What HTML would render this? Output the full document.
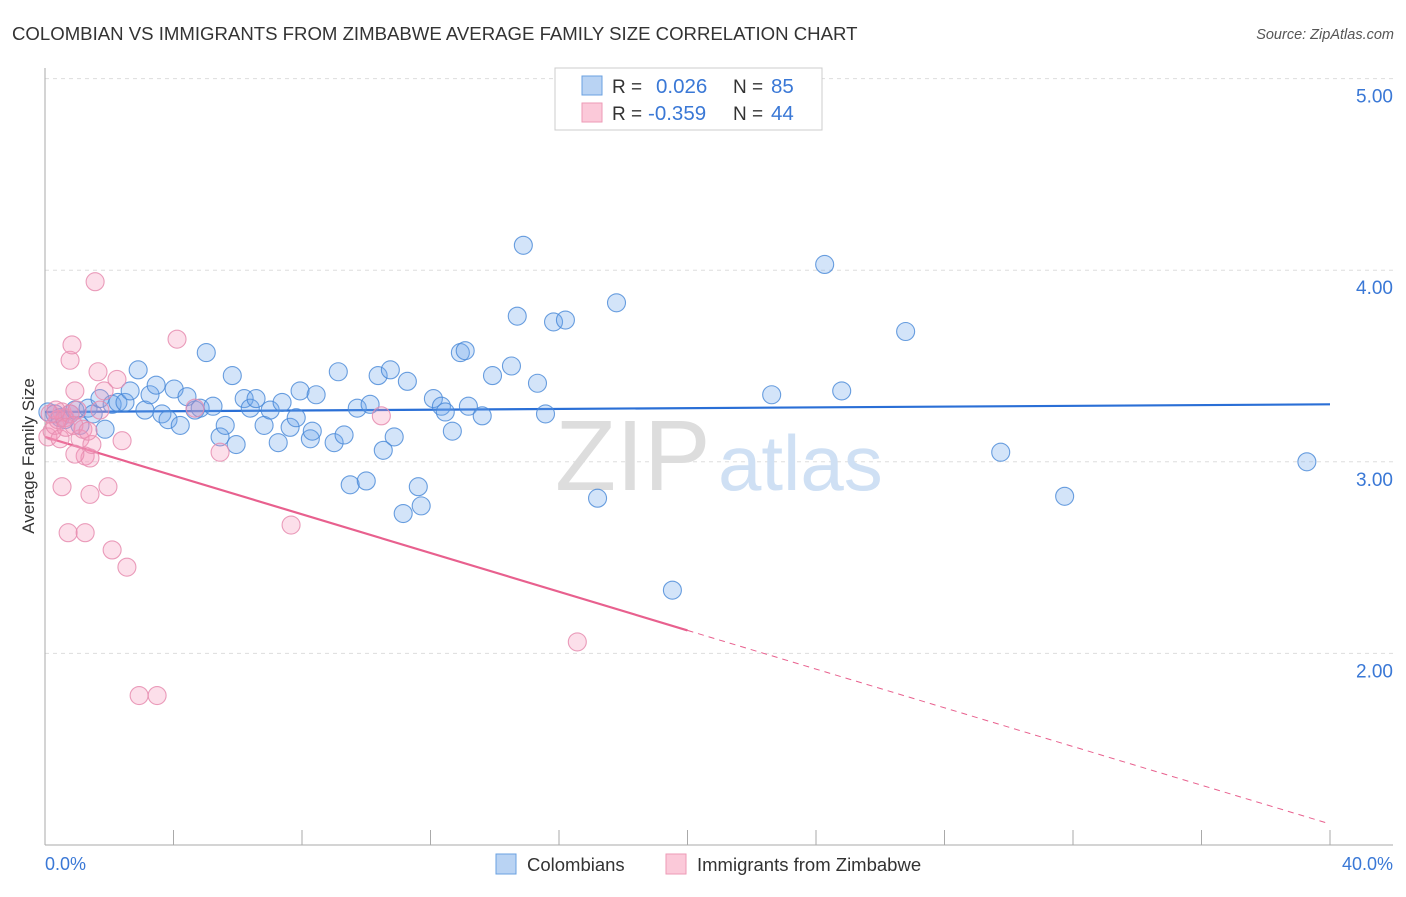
<!DOCTYPE html>
<html><head><meta charset="utf-8"><style>
body{margin:0;background:#fff;font-family:"Liberation Sans",sans-serif;}
svg text{font-family:"Liberation Sans",sans-serif;}
</style></head><body>
<svg width="1406" height="892" xmlns="http://www.w3.org/2000/svg">
<text x="12" y="40" font-size="18.6" fill="#333">COLOMBIAN VS IMMIGRANTS FROM ZIMBABWE AVERAGE FAMILY SIZE CORRELATION CHART</text>
<text x="1394" y="39" font-size="14.5" fill="#555" font-style="italic" text-anchor="end">Source: ZipAtlas.com</text>
<g id="grid"></g>
<g id="axes"></g>
<text x="555" y="490" font-size="100" fill="#ddd" font-family="Liberation Serif">ZIP</text>
<text x="718" y="490" font-size="78" fill="#cfe0f4">atlas</text>
<g id="trend"></g>
<g id="pts"></g>
<text x="34" y="456" font-size="17" fill="#333" text-anchor="middle" transform="rotate(-90 34 456)">Average Family Size</text>
<text x="45" y="870" font-size="18" fill="#3a78d6">0.0%</text>
<text x="1393" y="870" font-size="18" fill="#3a78d6" text-anchor="end">40.0%</text>
<g>
<rect x="555" y="68" width="267" height="62" fill="#fff" stroke="#ccc"/>
<rect x="582" y="76" width="20" height="19" fill="#b9d3f3" stroke="#6aa0e0"/>
<rect x="582" y="103" width="20" height="19" fill="#fbc9d9" stroke="#ee9ab6"/>
<text x="612" y="93" font-size="19" fill="#333">R = </text><text x="656" y="93" font-size="20.5" fill="#3a78d6">0.026</text>
<text x="733" y="93" font-size="19" fill="#333">N = </text><text x="771" y="93" font-size="20.5" fill="#3a78d6">85</text>
<text x="612" y="120" font-size="19" fill="#333">R = </text><text x="648" y="120" font-size="20.5" fill="#3a78d6">-0.359</text>
<text x="733" y="120" font-size="19" fill="#333">N = </text><text x="771" y="120" font-size="20.5" fill="#3a78d6">44</text>
</g>
<g>
<rect x="496" y="854" width="20" height="20" fill="#b9d3f3" stroke="#6aa0e0"/>
<text x="527" y="871" font-size="18.5" fill="#333">Colombians</text>
<rect x="666" y="854" width="20" height="20" fill="#fbc9d9" stroke="#ee9ab6"/>
<text x="697" y="871" font-size="18.5" fill="#333">Immigrants from Zimbabwe</text>
</g>
</svg>
<script>
const blueX=[0.09,0.31,0.47,0.62,0.78,0.93,1.09,1.34,1.50,1.71,1.87,2.09,2.27,2.49,2.65,2.90,3.11,3.27,3.46,3.64,3.83,4.02,4.21,4.42,4.67,4.83,5.02,5.23,5.45,5.61,5.83,5.95,6.20,6.39,6.57,6.82,7.01,7.26,7.38,7.63,7.82,7.94,8.26,8.32,8.44,9.00,9.13,9.31,9.50,9.72,10.00,10.12,10.37,10.53,10.75,10.87,11.15,11.28,11.62,11.71,12.09,12.34,12.46,12.68,12.93,13.08,13.18,13.61,13.93,14.52,14.70,14.89,15.33,15.58,15.83,16.20,17.20,17.79,19.53,22.62,24.27,24.80,26.79,29.75,31.74,39.28];
const blueY=[3.26,3.25,3.23,3.22,3.25,3.27,3.19,3.28,3.25,3.33,3.17,3.30,3.31,3.31,3.37,3.48,3.27,3.35,3.40,3.25,3.22,3.38,3.19,3.34,3.27,3.28,3.57,3.29,3.13,3.19,3.45,3.09,3.33,3.28,3.33,3.19,3.27,3.10,3.31,3.18,3.23,3.37,3.12,3.16,3.35,3.10,3.47,3.14,2.88,3.28,2.90,3.30,3.45,3.06,3.48,3.13,2.73,3.42,2.87,2.77,3.33,3.29,3.26,3.16,3.57,3.58,3.29,3.24,3.45,3.50,3.76,4.13,3.41,3.25,3.73,3.74,2.81,3.83,2.33,3.35,4.03,3.37,3.68,3.05,2.82,3.00];
const pinkX=[0.09,0.22,0.31,0.40,0.53,0.62,0.47,0.78,0.93,0.53,0.72,0.78,0.84,1.00,1.09,1.25,1.40,1.46,1.56,1.25,1.40,1.65,1.84,1.96,2.09,2.24,2.40,2.55,2.93,3.49,4.11,4.67,5.45,7.66,10.47,16.57,0.93,0.16,0.34,0.65,1.18,0.90,1.71,1.34];
const pinkY=[3.13,3.16,3.19,3.22,3.26,3.23,3.12,3.25,3.37,2.87,2.63,3.53,3.61,3.27,3.12,3.03,3.02,3.09,3.94,2.63,2.83,3.47,3.37,2.87,2.54,3.43,3.11,2.45,1.78,1.78,3.64,3.28,3.05,2.67,3.24,2.06,3.04,3.25,3.27,3.18,3.17,3.19,3.27,3.16];
const blueTrend=[3.26,3.30];
const pinkTrend=[3.13,1.11];
const pinkSolidEnd=20;
const yTicks=[2,3,4,5];
const yTickLabels=["2.00","3.00","4.00","5.00"];
const xTicks=[0,4,8,12,16,20,24,28,32,36,40];

const NS="http://www.w3.org/2000/svg";
const sx=v=>45+v*32.125, sy=v=>845-(v-1)*191.6;
function mk(tag,attrs,parent){const e=document.createElementNS(NS,tag);for(const k in attrs)e.setAttribute(k,attrs[k]);document.getElementById(parent).appendChild(e);return e;}
yTicks.forEach((t,i)=>{
 const l=mk('line',{x1:45,x2:1393,y1:sy(t),y2:sy(t),stroke:'#ddd','stroke-dasharray':'4,4'},'grid');
 
 
 const tx=mk('text',{x:1393,y:sy(t)+24,'font-size':19,fill:'#3a78d6','text-anchor':'end'},'grid');
 tx.textContent=yTickLabels[i];
 
 
});
mk('line',{x1:45,x2:45,y1:68,y2:845,stroke:'#aaa'},'axes');
mk('line',{x1:45,x2:1393,y1:845,y2:845,stroke:'#aaa'},'axes');
xTicks.forEach(t=>{
 const l=mk('line',{x1:sx(t),x2:sx(t),y1:830,y2:845,stroke:'#aaa'},'axes');
 
 
});
const bt=mk('line',{x1:sx(0),y1:sy(blueTrend[0]),x2:sx(40),y2:sy(blueTrend[1]),stroke:'#2a6fd6','stroke-width':2.2},'trend');


const pv=x=>pinkTrend[0]+(pinkTrend[1]-pinkTrend[0])*x/40;
const ps=mk('line',{x1:sx(0),y1:sy(pv(0)),x2:sx(pinkSolidEnd),y2:sy(pv(pinkSolidEnd)),stroke:'#e8608e','stroke-width':2.2},'trend');


const pd=mk('line',{x1:sx(pinkSolidEnd),y1:sy(pv(pinkSolidEnd)),x2:sx(40),y2:sy(pv(40)),stroke:'#e8608e','stroke-width':1,'stroke-dasharray':'6,5'},'trend');


blueX.forEach((x,i)=>{
 const c=mk('circle',{cx:sx(x),cy:sy(blueY[i]),r:9,fill:'rgba(110,165,235,0.3)',stroke:'rgba(70,135,215,0.8)','stroke-width':1.1},'pts');
 
 
});
pinkX.forEach((x,i)=>{
 const c=mk('circle',{cx:sx(x),cy:sy(pinkY[i]),r:9,fill:'rgba(245,150,185,0.3)',stroke:'rgba(230,140,175,0.85)','stroke-width':1.1},'pts');
 
 
});
</script>
</body></html>
